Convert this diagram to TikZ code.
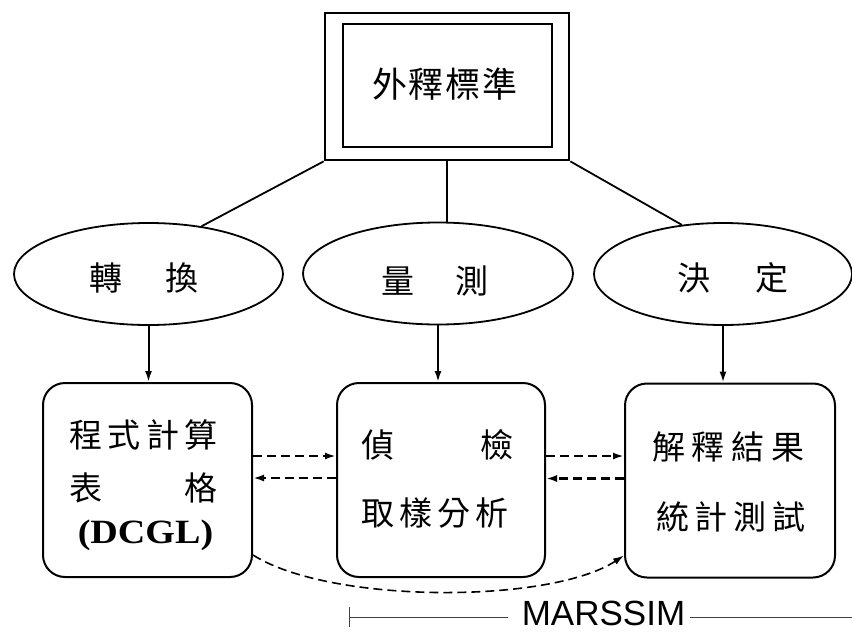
\documentclass[tikz,border=0pt]{standalone}
\usepackage{graphicx}
\usepackage{fontspec}
\setmainfont{Liberation Serif}
\newfontfamily\cjk{Noto Sans CJK TC}
\newfontfamily\arialf{Liberation Sans}
\usetikzlibrary{shapes.geometric,arrows.meta}

\begin{document}
\begin{tikzpicture}[x=1pt,y=-1pt,
  conn/.style={line width=1.8pt},
  oval/.style={ellipse, draw, line width=1.8pt, inner sep=0pt, minimum height=102pt},
  dblbox/.style={draw, line width=2.8pt, inner sep=0pt},
  rbox/.style={draw, rounded corners=22pt, line width=2pt, minimum height=194pt, inner sep=0pt},
  cjklab/.style={font=\cjk\fontsize{33}{38}\selectfont, inner sep=0pt, anchor=base},
  solidarrow/.style={line width=2pt, -{Latex[length=11pt,width=7pt]}},
  dasharrow/.style={line width=2.2pt, dash pattern=on 9pt off 5pt, -{Latex[length=11pt,width=7pt]}},
  scaleline/.style={line width=1pt, black!75},
]
\useasboundingbox (0,0) rectangle (852,633);

% top double box
\node[dblbox, minimum width=244pt, minimum height=147pt] (outer) at (447,86.5) {};
\node[dblbox, minimum width=209pt, minimum height=123pt] (inner) at (447.5,85.5) {};
\node[font=\cjk\fontsize{35}{40}\selectfont, inner sep=0pt, anchor=base] (t0) at (445,97) {\makebox[146pt]{外\hfill 釋\hfill 標\hfill 準}};

% ellipses
\node[oval, minimum width=269pt] (e1) at (148.5,274) {};
\node[oval, minimum width=270pt] (e2) at (438,273.5) {};
\node[oval, minimum width=258pt] (e3) at (723,274) {};
\node[cjklab] (l1) at (144,290) {\makebox[110pt]{轉\hfill 換}};
\node[cjklab] (l2) at (435,293) {\makebox[108pt]{量\hfill 測}};
\node[cjklab] (l3) at (733,290) {\makebox[112pt]{決\hfill 定}};

% rounded boxes
\node[rbox, minimum width=209pt] (b1) at (147.5,480) {};
\node[rbox, minimum width=208pt] (b2) at (441,480) {};
\node[rbox, minimum width=210pt] (b3) at (730,480.5) {};

\node[cjklab] (b1a) at (143.5,447) {\makebox[149pt]{程\hfill 式\hfill 計\hfill 算}};
\node[cjklab] (b1b) at (143.5,500) {\makebox[149pt]{表\hfill 格}};
\node[font=\bfseries\fontsize{34}{40}\selectfont, inner sep=0pt, anchor=base] (b1c) at (145.5,543) {\scalebox{1.12}[1]{(DCGL)}};
\node[cjklab] (b2a) at (437,457) {\makebox[152pt]{偵\hfill 檢}};
\node[cjklab] (b2b) at (435,525) {\makebox[148pt]{取\hfill 樣\hfill 分\hfill 析}};
\node[cjklab] (b3a) at (728,459) {\makebox[152pt]{解\hfill 釋\hfill 結\hfill 果}};
\node[cjklab] (b3b) at (731,529) {\makebox[150pt]{統\hfill 計\hfill 測\hfill 試}};

% connectors from top box
\draw[conn] (outer.south west) -- (e1.42);
\draw[conn] (outer.south) -- (outer.south |- e2.north);
\draw[conn] (outer.south east) -- (e3.130);

% down arrows
\draw[solidarrow] (e1.south) -- (e1.south |- b1.north);
\draw[solidarrow] (e2.south) -- (e2.south |- b2.north);
\draw[solidarrow] (e3.south) -- (e3.south |- b3.north);

% dashed arrows between boxes
\draw[dasharrow] ([yshift=24pt]b1.east) -- ([yshift=24pt]b1.east -| b2.west);
\draw[dasharrow] ([yshift=2pt]b2.west) -- ([yshift=2pt]b2.west -| b1.east);
\draw[dasharrow] ([yshift=24pt]b2.east) -- ([yshift=24pt]b2.east -| b3.west);
\draw[dasharrow] ([yshift=2pt]b3.west) -- ([yshift=2pt]b3.west -| b2.east);

% curved dashed arrow
\draw[dasharrow, line width=1.6pt] ([yshift=-75pt]b1.east) .. controls (330,604) and (550,604) .. ([yshift=-75pt]b3.west);

% MARSSIM scale
\node[font=\arialf\fontsize{35}{40}\selectfont, inner sep=0pt, anchor=base] (ms) at (603.5,625) {MARSSIM};
\coordinate (m1) at (349,617);
\coordinate (m4) at (852,617);
\draw[scaleline, {Bar[width=20pt]}-] (m1) -- ([xshift=-14pt]ms.west |- m1);
\draw[scaleline] ([xshift=5pt]ms.east |- m1) -- (m4);
\end{tikzpicture}
\end{document}
